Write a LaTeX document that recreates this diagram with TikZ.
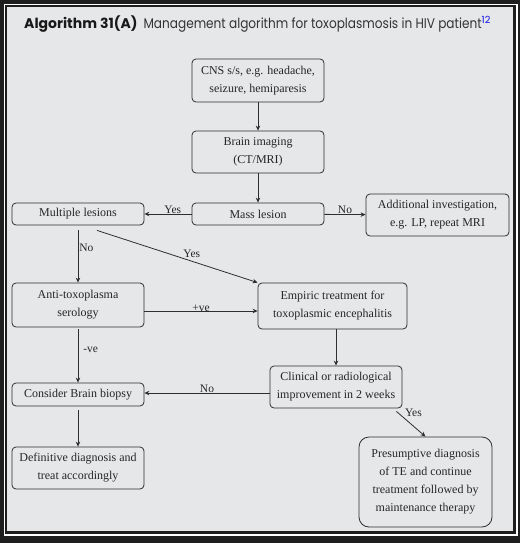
\documentclass[tikz,border=0pt]{standalone}
\usepackage{fontspec}
\setmainfont{Liberation Serif}
\newfontfamily\titlefont{Poppins}
\usetikzlibrary{arrows.meta,positioning}
\definecolor{pagegrey}{HTML}{E6E7E9}
\definecolor{framedark}{HTML}{1E1E1E}
\definecolor{linegrey}{HTML}{2E2E2E}
\definecolor{refblue}{HTML}{1414E6}

\begin{document}
\begin{tikzpicture}[x=1pt,y=-1pt,>={Stealth[length=5pt,width=4.5pt]},
    box/.style={draw=linegrey,line width=0.8pt,rounded corners=4pt,align=center,inner sep=0pt,
        text=black!85,font=\fontsize{12}{18}\selectfont},
    link/.style={->,draw=linegrey,line width=0.8pt},
    lbl/.style={text=black!85,font=\fontsize{11.5}{13}\selectfont,inner sep=1pt}]
    % frame
    \useasboundingbox (0,0) rectangle (520,543);
    \fill[framedark] (0,0) rectangle (520,543);
    \draw[white,line width=1.4pt] (4.7,4.7) rectangle (516.8,534.8);
    \fill[pagegrey] (7,7) rectangle (513,531);

    \node[anchor=base west,inner sep=0pt,text=black!90] (title) at (24,29)
        {\titlefont\fontsize{14}{16}\selectfont\textbf{Algorithm 31(A)}\hspace{6pt}%
        \scalebox{0.865}[1]{\color{black!80}Management algorithm for toxoplasmosis in HIV patient}%
        \textsuperscript{\color{refblue}12}};

    % boxes
    \node[box,minimum width=132pt,minimum height=43pt] (cns)      at (258,80.5) {CNS s/s, e.g. headache,\\seizure, hemiparesis};
    \node[box,minimum width=132pt,minimum height=42pt] (imaging)  at (258,152)  {Brain imaging\\(CT/MRI)};
    \node[box,minimum width=132pt,minimum height=22pt] (mass)     at (258,214)  {Mass lesion};
    \node[box,minimum width=132pt,minimum height=22pt] (multiple) at (78,214)   {Multiple lesions};
    \node[box,minimum width=143pt,minimum height=42pt] (addinv)   at (437.5,215) {Additional investigation,\\e.g. LP, repeat MRI};
    \node[box,minimum width=132pt,minimum height=44pt] (serology) at (78,305)   {Anti-toxoplasma\\serology};
    \node[box,minimum width=149pt,minimum height=46pt] (empiric)  at (332.5,306) {Empiric treatment for\\toxoplasmic encephalitis};
    \node[box,minimum width=132pt,minimum height=42pt] (improve)  at (336,387)  {Clinical or radiological\\improvement in 2 weeks};
    \node[box,minimum width=132pt,minimum height=23pt] (biopsy)   at (78,394.5) {Consider Brain biopsy};
    \node[box,minimum width=132pt,minimum height=42pt] (definite) at (78,468)   {Definitive diagnosis and\\treat accordingly};
    \node[box,rounded corners=10pt,minimum width=133pt,minimum height=90pt] (presume) at (425.5,482)
        {Presumptive diagnosis\\of TE and continue\\treatment followed by\\maintenance therapy};

    % connectors
    \draw[link] (cns) -- (imaging);
    \draw[link] (imaging) -- (mass);
    \draw[link] (mass) -- node[lbl,above,inner sep=0pt,pos=0.4] {Yes} (multiple);
    \draw[link] (mass) -- node[lbl,above,inner sep=0pt] {No} (addinv);
    \draw[link,shorten <=5pt] (multiple) -- node[lbl,right,pos=0.4] {No} (serology);
    \draw[link] ([xshift=19pt,yshift=-5pt]multiple.south) -- node[lbl,above=2pt,pos=0.59] {Yes} (empiric.north west);
    \draw[link] ([yshift=-6pt]serology.east) -- node[lbl,above,inner sep=-1pt] {+ve} ([yshift=-6pt]serology.east -| empiric.west);
    \draw[link,shorten <=2pt] (serology) -- node[lbl,right,pos=0.4,xshift=4pt] {-ve} (biopsy);
    \draw[link] (improve.north |- empiric.south) -- (improve.north);
    \draw[link] ([yshift=-6pt]improve.west) -- node[lbl,above,inner sep=0pt] {No} ([yshift=-6pt]improve.west -| biopsy.east);
    \draw[link] ([xshift=-6pt,yshift=-3pt]improve.south east) -- node[lbl,above right,pos=0.25] {Yes} (presume.north);
    \draw[link,shorten <=4pt] (biopsy) -- (definite);
\end{tikzpicture}
\end{document}
